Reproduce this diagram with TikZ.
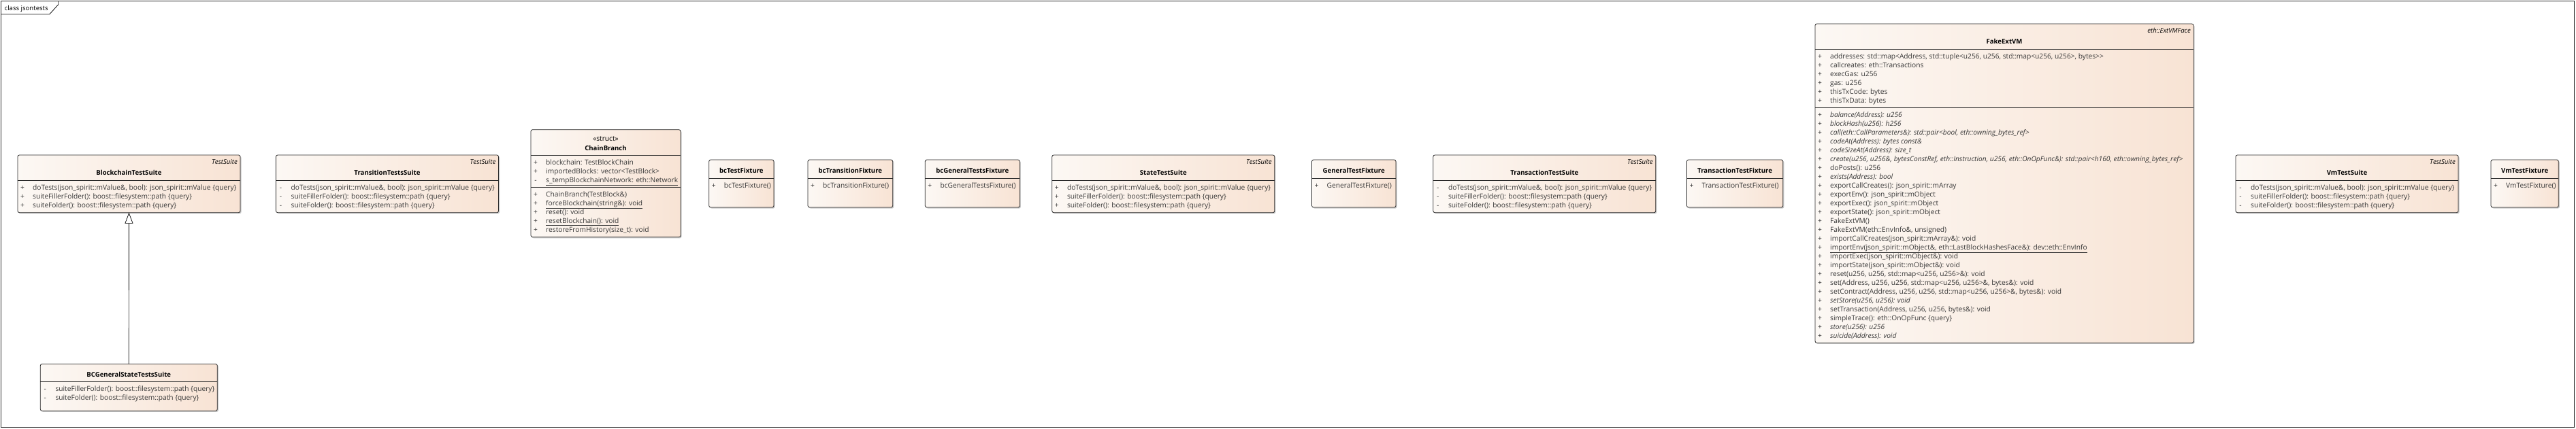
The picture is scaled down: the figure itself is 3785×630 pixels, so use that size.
\documentclass[tikz,border=0pt]{standalone}
\usepackage{fontspec}
\setmainfont{Open Sans}
\usetikzlibrary{calc,arrows.meta,shadows}
\definecolor{boxL}{RGB}{252,248,244}
\definecolor{boxR}{RGB}{248,227,212}
\definecolor{edge}{RGB}{40,40,40}
\definecolor{txt}{RGB}{55,55,55}
\newcommand\memfont{\fontsize{10.2pt}{12pt}\selectfont}
\newcommand\namefont{\fontsize{9.6pt}{12pt}\selectfont\bfseries}
\newcommand\stereofont{\fontsize{9.6pt}{12pt}\selectfont\itshape}
\newcommand\rowstart{0}
\newcommand\mrow[4]{%
  \node[vismark] (#1-m#2) at ($(#1.north west)+(7,{\rowstart+13*(#2-1)})$) {#3};
  \node[memtext] (#1-t#2) at ($(#1.north west)+(22,{\rowstart+13*(#2-1)})$) {#4};}
\newcommand\sepline[2]{\draw[sepl] ($(#1.north west)+(0,#2)$) -- ($(#1.north east)+(0,#2)$);}
\newcommand\testsuite[4]{%
  \node[classbox, minimum width=327pt, minimum height=84.7pt] (#1) at (#2,228) {};
  \node[stereo] (#1-s) at ($(#1.north east)+(-4,13)$) {TestSuite};
  \node[clsname] (#1-n) at ($(#1.north)+(0,29.4)$) {#3};
  \sepline{#1}{37.7}
  \renewcommand\rowstart{51.4}
  \mrow{#1}{1}{#4}{doTests(json\_spirit::mValue\&, bool): json\_spirit::mValue \{query\}}
  \mrow{#1}{2}{#4}{suiteFillerFolder(): boost::filesystem::path \{query\}}
  \mrow{#1}{3}{#4}{suiteFolder(): boost::filesystem::path \{query\}}}
\newcommand\fixture[4]{%
  \node[classbox, minimum width=#3pt, minimum height=70pt] (#1) at (#2,235) {};
  \node[clsname] (#1-n) at ($(#1.north)+(0,19.3)$) {#4};
  \sepline{#1}{27}
  \renewcommand\rowstart{41}
  \mrow{#1}{1}{+}{#4()}}
\begin{document}
\begin{tikzpicture}[x=1pt,y=-1pt,
  classbox/.style={draw=edge, line width=0.8pt, rounded corners=2.5pt, left color=boxL, right color=boxR,
    anchor=north west, inner sep=0pt, outer sep=0pt,
    drop shadow={shadow xshift=1.6pt, shadow yshift=-1.6pt, opacity=0.22, fill=black}},
  sepl/.style={draw=edge, line width=0.8pt},
  clsname/.style={anchor=base, inner sep=0pt, font=\namefont, text=black},
  stereo/.style={anchor=base east, inner sep=0pt, font=\stereofont, text=black},
  stereoc/.style={anchor=base, inner sep=0pt, font=\memfont, text=black},
  vismark/.style={anchor=base, inner sep=0pt, font=\memfont, text=txt},
  memtext/.style={anchor=base west, inner sep=0pt, font=\memfont, text=txt},
  framel/.style={draw=edge, line width=0.9pt},
  genarrow/.style={draw=black, line width=0.7pt, -{Triangle[length=16pt,width=12pt,fill=white,line width=0.7pt]}}]
\useasboundingbox (0,0) rectangle (3785,630);
\fill[white] (0,0) rectangle (3785,630);
% frame
\draw[framel] (1,1) rectangle (3782,628);
\draw[framel] (1,21) -- (72.7,21) -- (85.7,6.7) -- (85.7,1);
\node[anchor=base west, inner sep=0pt, font=\fontsize{9.6pt}{12pt}\selectfont, text=black] (frametitle) at (6.5,15) {class jsontests};
% test suites
\testsuite{bts}{26}{BlockchainTestSuite}{+}
\testsuite{tts}{405.5}{TransitionTestsSuite}{-}
\testsuite{sts}{1545.8}{StateTestSuite}{+}
\testsuite{xts}{2105.8}{TransactionTestSuite}{-}
\testsuite{vts}{3285}{VmTestSuite}{-}
% fixtures
\fixture{bcf}{1041.7}{95.3}{bcTestFixture}
\fixture{btf}{1187}{124.7}{bcTransitionFixture}
\fixture{bgf}{1359.3}{139}{bcGeneralTestsFixture}
\fixture{gtf}{1927.5}{123.5}{GeneralTestFixture}
\fixture{ttf}{2478.4}{141.4}{TransactionTestFixture}
\fixture{vtf}{3660}{99.3}{VmTestFixture}
% ChainBranch
\node[classbox, minimum width=220pt, minimum height=158pt] (cb) at (780,190.7) {};
\node[stereoc] (cb-s) at ($(cb.north)+(0,17)$) {«struct»};
\node[clsname] (cb-n) at ($(cb.north)+(0,30.3)$) {ChainBranch};
\sepline{cb}{38}
\renewcommand\rowstart{51.7}
\mrow{cb}{1}{+}{blockchain: TestBlockChain}
\mrow{cb}{2}{+}{importedBlocks: vector<TestBlock>}
\mrow{cb}{3}{-}{\underline{s\_tempBlockchainNetwork: eth::Network}}
\sepline{cb}{85}
\renewcommand\rowstart{59.7}
\mrow{cb}{4}{+}{ChainBranch(TestBlock\&)}
\mrow{cb}{5}{+}{\underline{forceBlockchain(string\&): void}}
\mrow{cb}{6}{+}{reset(): void}
\mrow{cb}{7}{+}{\underline{resetBlockchain(): void}}
\mrow{cb}{8}{+}{restoreFromHistory(size\_t): void}
% FakeExtVM
\node[classbox, minimum width=556pt, minimum height=469.3pt] (fev) at (2667,35) {};
\node[stereo] (fev-s) at ($(fev.north east)+(-4,13)$) {eth::ExtVMFace};
\node[clsname] (fev-n) at ($(fev.north)+(0,29.7)$) {FakeExtVM};
\sepline{fev}{37.3}
\renewcommand\rowstart{51}
\mrow{fev}{1}{+}{addresses: std::map<Address, std::tuple<u256, u256, std::map<u256, u256>, bytes>{}>}
\mrow{fev}{2}{+}{callcreates: eth::Transactions}
\mrow{fev}{3}{+}{execGas: u256}
\mrow{fev}{4}{+}{gas: u256}
\mrow{fev}{5}{+}{thisTxCode: bytes}
\mrow{fev}{6}{+}{thisTxData: bytes}
\sepline{fev}{123.3}
\renewcommand\rowstart{59}
\mrow{fev}{7}{+}{\itshape balance(Address): u256}
\mrow{fev}{8}{+}{\itshape blockHash(u256): h256}
\mrow{fev}{9}{+}{\itshape call(eth::CallParameters\&): std::pair<bool, eth::owning\_bytes\_ref>}
\mrow{fev}{10}{+}{\itshape codeAt(Address): bytes const\&}
\mrow{fev}{11}{+}{\itshape codeSizeAt(Address): size\_t}
\mrow{fev}{12}{+}{\itshape create(u256, u256\&, bytesConstRef, eth::Instruction, u256, eth::OnOpFunc\&): std::pair<h160, eth::owning\_bytes\_ref>}
\mrow{fev}{13}{+}{doPosts(): u256}
\mrow{fev}{14}{+}{\itshape exists(Address): bool}
\mrow{fev}{15}{+}{exportCallCreates(): json\_spirit::mArray}
\mrow{fev}{16}{+}{exportEnv(): json\_spirit::mObject}
\mrow{fev}{17}{+}{exportExec(): json\_spirit::mObject}
\mrow{fev}{18}{+}{exportState(): json\_spirit::mObject}
\mrow{fev}{19}{+}{FakeExtVM()}
\mrow{fev}{20}{+}{FakeExtVM(eth::EnvInfo\&, unsigned)}
\mrow{fev}{21}{+}{importCallCreates(json\_spirit::mArray\&): void}
\mrow{fev}{22}{+}{\underline{importEnv(json\_spirit::mObject\&, eth::LastBlockHashesFace\&): dev::eth::EnvInfo}}
\mrow{fev}{23}{+}{importExec(json\_spirit::mObject\&): void}
\mrow{fev}{24}{+}{importState(json\_spirit::mObject\&): void}
\mrow{fev}{25}{+}{reset(u256, u256, std::map<u256, u256>\&): void}
\mrow{fev}{26}{+}{set(Address, u256, u256, std::map<u256, u256>\&, bytes\&): void}
\mrow{fev}{27}{+}{setContract(Address, u256, u256, std::map<u256, u256>\&, bytes\&): void}
\mrow{fev}{28}{+}{\itshape setStore(u256, u256): void}
\mrow{fev}{29}{+}{setTransaction(Address, u256, u256, bytes\&): void}
\mrow{fev}{30}{+}{simpleTrace(): eth::OnOpFunc \{query\}}
\mrow{fev}{31}{+}{\itshape store(u256): u256}
\mrow{fev}{32}{+}{\itshape suicide(Address): void}
% BCGeneralStateTestsSuite
\node[classbox, minimum width=260pt, minimum height=69pt] (bcg) at (59.3,535.3) {};
\node[clsname] (bcg-n) at ($(bcg.north)+(0,18.7)$) {BCGeneralStateTestsSuite};
\sepline{bcg}{26.4}
\renewcommand\rowstart{40.1}
\mrow{bcg}{1}{-}{suiteFillerFolder(): boost::filesystem::path \{query\}}
\mrow{bcg}{2}{-}{suiteFolder(): boost::filesystem::path \{query\}}
% generalization
\draw[genarrow] (bcg.north) -- (bts.south);
\end{tikzpicture}
\end{document}
